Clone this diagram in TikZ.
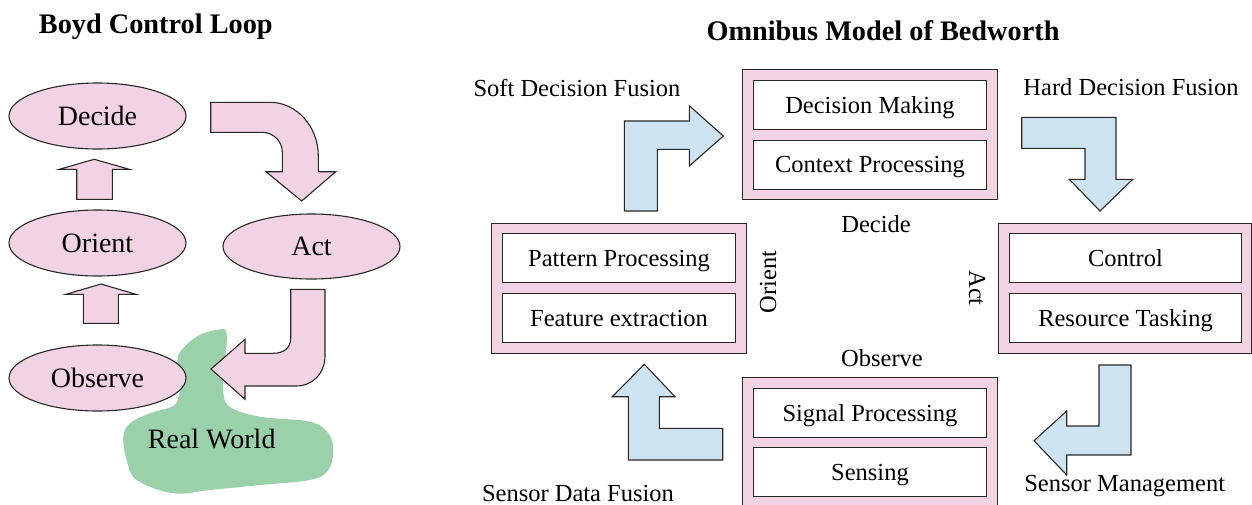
\documentclass[tikz,border=0pt]{standalone}
\usepackage{fontspec}
\setmainfont{Liberation Serif}
\usetikzlibrary{shapes.geometric}
\definecolor{pinkf}{RGB}{242,211,228}
\definecolor{bluef}{RGB}{205,227,242}
\definecolor{greenf}{RGB}{154,208,170}
\definecolor{edgec}{RGB}{40,40,40}
\begin{document}
\begin{tikzpicture}[x=1pt,y=-1pt,
 ell/.style={ellipse, draw=edgec, fill=pinkf, line width=1.1pt, minimum width=177pt, minimum height=66pt, inner sep=0pt, font=\fontsize{28}{30}\selectfont},
 frame/.style={draw=edgec, fill=pinkf, line width=1.1pt, inner sep=0pt, minimum width=255pt, minimum height=130pt},
 inbox/.style={draw=edgec, fill=white, line width=1.1pt, inner sep=0pt, minimum width=233pt, minimum height=49pt, font=\fontsize{24.5}{28}\selectfont, text height=16.2pt, text depth=0pt},
 lbl/.style={anchor=base, inner sep=0pt, font=\fontsize{24.5}{28}\selectfont},
 ttl/.style={anchor=base, inner sep=0pt, font=\fontsize{28.3}{32}\selectfont\bfseries},
 pinkarrow/.style={draw=edgec, fill=pinkf, line width=1.1pt, line join=miter},
 bluearrow/.style={draw=edgec, fill=bluef, line width=1.1pt, line join=miter},
]
\useasboundingbox (0,0) rectangle (1252,504);
\clip (0,0) rectangle (1252,504);
\fill[white] (0,0) rectangle (1252,504);

% ---------- Boyd Control Loop ----------
\node[ttl] (t1) at (155.8,33.3) {Boyd Control Loop};

% Real world blob
\fill[greenf] plot[smooth cycle, tension=0.6] coordinates {
 (220,329.3) (226.7,334) (225,362) (223,390) (230,407) (260,416.7) (310,421.7)
 (328.3,433.3) (333.3,450) (328.3,470) (310,480) (260,485) (210,490) (173.3,493.3)
 (136.7,480) (126.7,460) (123.3,436.7) (130,423.3) (150,413.3) (171.7,406.7)
 (178.3,398) (181,376.7) (178,356) (196.7,336.7)};
\node[anchor=base, inner sep=0pt, font=\fontsize{28}{30}\selectfont] (rw) at (211.7,448.3) {Real World};

\node[ell] (dec) at (97.5,116) {Decide};
\node[ell] (ori) at (97.5,243) {Orient};
\node[ell] (obs) at (97.5,378) {Observe};
\node[ell, minimum height=65pt] (act) at (311.5,246.5) {Act};

% up arrows
\draw[pinkarrow] (76.7,199.3) -- (76.7,169.3) -- (59.3,169.3) -- (94.3,159.3) -- (129.3,169.3) -- (112.3,169.3) -- (112.3,199.3) -- cycle;
\draw[pinkarrow] (83.3,323.3) -- (83.3,294.3) -- (66,294.3) -- (101,284) -- (136,294.3) -- (118.3,294.3) -- (118.3,323.3) -- cycle;

% Decide -> Act
\draw[pinkarrow] (210.7,102.3) -- (270,102.3) .. controls (296.6,102.3) and (318.3,126.5) .. (318.3,156)
 -- (318.3,171.7) -- (335.7,171.7) -- (301.7,201) -- (266,171.7) -- (282.3,171.7) -- (282.3,152)
 .. controls (282.3,141) and (273,132.3) .. (262,132.3) -- (210.7,132.3) -- cycle;

% Act -> Observe
\draw[pinkarrow] (290.7,289.3) -- (325,289.3) -- (325,356) .. controls (325,373) and (313,386) .. (296,386)
 -- (245,386) -- (245,399.3) -- (211,369) -- (245,339.3) -- (245,353.3) -- (273,353.3)
 .. controls (284,353.3) and (290.7,348) .. (290.7,338) -- cycle;

% ---------- Omnibus Model ----------
\node[ttl] (t2) at (883,40) {Omnibus Model of Bedworth};

\node[frame] (fdec) at (869.8,134.65) {};
\node[inbox] (dm) at (870,105) {Decision Making};
\node[inbox] (cp) at (870,164.65) {Context Processing};

\node[frame, minimum width=253pt] (fact) at (1124.65,288.3) {};
\node[inbox, minimum width=232.4pt] (ctl) at (1125.5,258) {Control};
\node[inbox, minimum width=232.4pt] (rt) at (1125.5,318.3) {Resource Tasking};

\node[frame] (fori) at (618.85,288.65) {};
\node[inbox] (pp) at (619,258) {Pattern Processing};
\node[inbox] (fe) at (619,318.3) {Feature extraction};

\node[frame] (fobs) at (869.7,442.2) {};
\node[inbox] (sp) at (870,412.9) {Signal Processing};
\node[inbox] (sen) at (870,472.2) {Sensing};

\node[lbl] (lsdf) at (577,96) {Soft Decision Fusion};
\node[lbl] (lhdf) at (1131,95) {Hard Decision Fusion};
\node[lbl] (ldec) at (876,232.7) {Decide};
\node[lbl] (lobs) at (882,366.7) {Observe};
\node[lbl] (lsm) at (1124.7,491.7) {Sensor Management};
\node[lbl] (lsdaf) at (578,501) {Sensor Data Fusion};
\node[inner sep=0pt, rotate=90, font=\fontsize{24.5}{28}\selectfont] (lori) at (768,282) {Orient};
\node[inner sep=0pt, rotate=-90, font=\fontsize{24.5}{28}\selectfont] (lact) at (977,288) {Act};

% blue arrows
\draw[bluearrow] (624.3,211) -- (624.3,121) -- (689.3,121) -- (689.3,105.7) -- (723.3,136) -- (689.3,166) -- (689.3,149.3) -- (657.3,149.3) -- (657.3,211) -- cycle;
\draw[bluearrow] (1021.7,117.3) -- (1116,117.3) -- (1116,179.3) -- (1132.7,179.3) -- (1100,211) -- (1069.3,179.3) -- (1085,179.3) -- (1085,148.3) -- (1021.7,148.3) -- cycle;
\draw[bluearrow] (1099,365) -- (1131,365) -- (1131,455) -- (1066.7,455) -- (1066.7,475) -- (1034,440.7) -- (1066.7,411) -- (1066.7,426) -- (1099,426) -- cycle;
\draw[bluearrow] (628.3,460) -- (628.3,396.7) -- (612.3,396.7) -- (644.3,364.3) -- (675,396.7) -- (659.3,396.7) -- (659.3,428.3) -- (722.7,428.3) -- (722.7,460) -- cycle;
\end{tikzpicture}
\end{document}
